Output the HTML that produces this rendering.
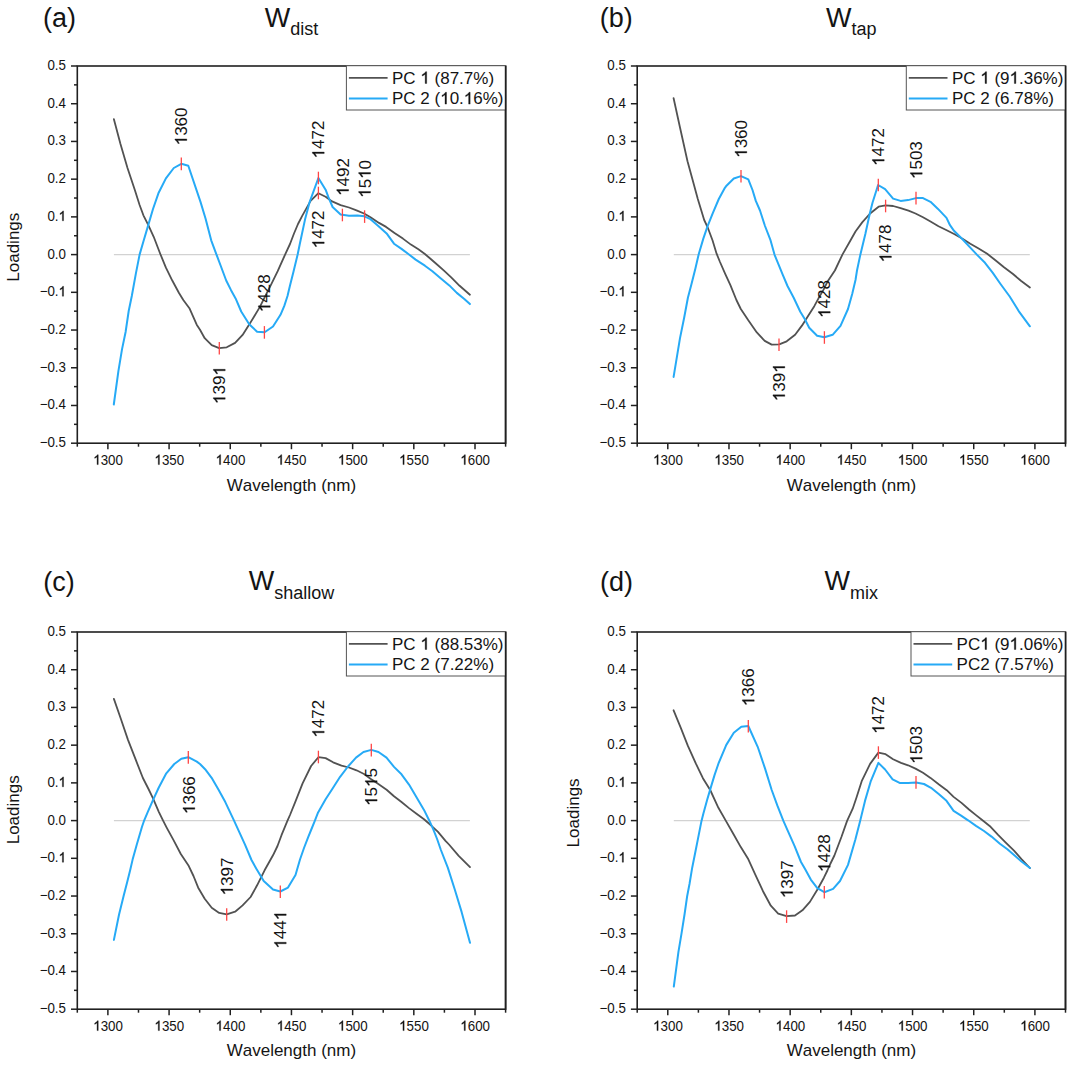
<!DOCTYPE html>
<html><head><meta charset="utf-8"><title>PCA loadings</title>
<style>html,body{margin:0;padding:0;background:#fff;}body{width:1073px;height:1068px;overflow:hidden;}svg text{font-family:"Liberation Sans", sans-serif;fill:#141414;font-kerning:none;}svg path{fill:#141414;stroke:#141414;stroke-width:0.35px;vector-effect:non-scaling-stroke;}</style>
</head><body>
<svg width="1073" height="1068" viewBox="0 0 1073 1068" style="display:block">
<rect width="1073" height="1068" fill="#fff"/>
<g><line x1="113.9" y1="254.6" x2="469.9" y2="254.6" stroke="#d2d2d2" stroke-width="1.3"/><polyline points="113.9,119.2 120.4,143.7 127.5,168.0 135.0,190.5 139.6,205.0 143.4,215.3 148.1,224.7 153.7,236.8 160.2,253.7 165.9,267.7 172.4,280.8 179.0,293.0 183.3,300.0 189.4,308.2 196.7,324.7 200.0,329.8 204.7,338.2 211.7,345.2 219.2,348.2 226.7,347.3 235.1,342.9 242.6,334.9 249.2,324.6 254.3,316.2 259.9,306.9 265.5,295.6 271.2,284.3 277.7,271.2 285.2,254.3 290.0,244.0 294.0,233.5 298.0,224.0 302.2,215.9 310.6,200.9 318.4,193.2 325.6,196.7 332.1,201.4 340.6,205.1 349.0,207.5 356.5,210.3 364.0,213.5 370.5,217.3 379.0,222.9 386.1,226.9 394.5,232.9 402.9,238.6 410.9,244.6 418.4,249.3 424.9,254.0 428.7,257.3 436.2,263.8 443.7,270.4 451.2,277.4 459.6,285.8 469.9,294.7" fill="none" stroke="#525252" stroke-width="1.8" stroke-linejoin="round" stroke-linecap="round"/><polyline points="113.8,404.5 118.4,371.1 122.0,349.4 125.6,332.0 128.7,311.0 131.8,296.0 135.9,273.4 139.6,254.6 143.4,241.5 148.1,225.6 153.0,209.0 158.4,193.3 165.9,178.4 173.8,168.0 181.3,163.8 188.3,165.7 200.5,201.9 205.6,218.7 211.2,240.3 216.4,254.3 220.6,265.5 226.2,280.5 230.9,289.9 235.6,298.4 241.2,311.5 249.2,324.2 257.1,331.7 264.6,332.3 273.0,326.5 280.5,314.8 284.3,305.9 287.5,296.0 290.0,285.5 293.6,271.2 297.7,254.3 300.0,243.0 305.0,219.6 309.7,201.8 318.4,178.0 325.6,189.7 328.4,197.2 332.6,207.0 340.6,214.5 349.0,215.7 357.4,215.4 364.4,216.3 370.5,219.2 378.0,225.7 386.6,233.4 394.0,243.7 401.5,248.9 409.0,254.5 415.6,259.6 424.9,265.7 432.4,271.3 440.9,278.4 449.3,285.4 456.8,292.9 464.3,299.0 469.9,304.1" fill="none" stroke="#26aaf6" stroke-width="2" stroke-linejoin="round" stroke-linecap="round"/><line x1="181.3" y1="157.6" x2="181.3" y2="170.2" stroke="#ff4545" stroke-width="1.3"/><line x1="219.3" y1="342.0" x2="219.3" y2="354.6" stroke="#ff4545" stroke-width="1.3"/><line x1="264.4" y1="326.1" x2="264.4" y2="338.7" stroke="#ff4545" stroke-width="1.3"/><line x1="318.4" y1="171.7" x2="318.4" y2="184.3" stroke="#ff4545" stroke-width="1.3"/><line x1="318.4" y1="186.7" x2="318.4" y2="199.3" stroke="#ff4545" stroke-width="1.3"/><line x1="342.4" y1="208.7" x2="342.4" y2="221.3" stroke="#ff4545" stroke-width="1.3"/><line x1="364.6" y1="210.3" x2="364.6" y2="222.9" stroke="#ff4545" stroke-width="1.3"/><g transform="translate(186.8,145.3) rotate(-90)"><text x="0.00" y="0" font-size="17"> 360</text><path d="M763 0H583V1147C539 1105 481 1063 409 1021C337 979 272 947 223 926V1098C321 1144 406 1200 479 1264C552 1328 604 1395 635 1466H763Z" transform="translate(0.00,0) scale(0.00830,-0.00807)"/></g><g transform="translate(225.2,404.0) rotate(-90)"><text x="0.00" y="0" font-size="17"> 39 </text><path d="M763 0H583V1147C539 1105 481 1063 409 1021C337 979 272 947 223 926V1098C321 1144 406 1200 479 1264C552 1328 604 1395 635 1466H763Z" transform="translate(0.00,0) scale(0.00830,-0.00807)"/><path d="M763 0H583V1147C539 1105 481 1063 409 1021C337 979 272 947 223 926V1098C321 1144 406 1200 479 1264C552 1328 604 1395 635 1466H763Z" transform="translate(28.36,0) scale(0.00830,-0.00807)"/></g><g transform="translate(270.2,312.2) rotate(-90)"><text x="0.00" y="0" font-size="17"> 428</text><path d="M763 0H583V1147C539 1105 481 1063 409 1021C337 979 272 947 223 926V1098C321 1144 406 1200 479 1264C552 1328 604 1395 635 1466H763Z" transform="translate(0.00,0) scale(0.00830,-0.00807)"/></g><g transform="translate(324.2,158.4) rotate(-90)"><text x="0.00" y="0" font-size="17"> 472</text><path d="M763 0H583V1147C539 1105 481 1063 409 1021C337 979 272 947 223 926V1098C321 1144 406 1200 479 1264C552 1328 604 1395 635 1466H763Z" transform="translate(0.00,0) scale(0.00830,-0.00807)"/></g><g transform="translate(324.2,248.3) rotate(-90)"><text x="0.00" y="0" font-size="17"> 472</text><path d="M763 0H583V1147C539 1105 481 1063 409 1021C337 979 272 947 223 926V1098C321 1144 406 1200 479 1264C552 1328 604 1395 635 1466H763Z" transform="translate(0.00,0) scale(0.00830,-0.00807)"/></g><g transform="translate(348.6,195.9) rotate(-90)"><text x="0.00" y="0" font-size="17"> 492</text><path d="M763 0H583V1147C539 1105 481 1063 409 1021C337 979 272 947 223 926V1098C321 1144 406 1200 479 1264C552 1328 604 1395 635 1466H763Z" transform="translate(0.00,0) scale(0.00830,-0.00807)"/></g><g transform="translate(370.5,197.8) rotate(-90)"><text x="0.00" y="0" font-size="17"> 5 0</text><path d="M763 0H583V1147C539 1105 481 1063 409 1021C337 979 272 947 223 926V1098C321 1144 406 1200 479 1264C552 1328 604 1395 635 1466H763Z" transform="translate(0.00,0) scale(0.00830,-0.00807)"/><path d="M763 0H583V1147C539 1105 481 1063 409 1021C337 979 272 947 223 926V1098C321 1144 406 1200 479 1264C552 1328 604 1395 635 1466H763Z" transform="translate(18.91,0) scale(0.00830,-0.00807)"/></g><rect x="77.3" y="66.0" width="428.3" height="377.2" fill="none" stroke="#202020" stroke-width="1.6"/><line x1="71.0" y1="66.00" x2="77.3" y2="66.00" stroke="#202020" stroke-width="1.5"/><g transform="translate(66.0,69.9) scale(0.94,1)"><text x="-19.74" y="0" font-size="14.2">0.5</text></g><line x1="74.0" y1="84.86" x2="77.3" y2="84.86" stroke="#202020" stroke-width="1.5"/><line x1="71.0" y1="103.72" x2="77.3" y2="103.72" stroke="#202020" stroke-width="1.5"/><g transform="translate(66.0,107.6) scale(0.94,1)"><text x="-19.74" y="0" font-size="14.2">0.4</text></g><line x1="74.0" y1="122.58" x2="77.3" y2="122.58" stroke="#202020" stroke-width="1.5"/><line x1="71.0" y1="141.44" x2="77.3" y2="141.44" stroke="#202020" stroke-width="1.5"/><g transform="translate(66.0,145.3) scale(0.94,1)"><text x="-19.74" y="0" font-size="14.2">0.3</text></g><line x1="74.0" y1="160.30" x2="77.3" y2="160.30" stroke="#202020" stroke-width="1.5"/><line x1="71.0" y1="179.16" x2="77.3" y2="179.16" stroke="#202020" stroke-width="1.5"/><g transform="translate(66.0,183.1) scale(0.94,1)"><text x="-19.74" y="0" font-size="14.2">0.2</text></g><line x1="74.0" y1="198.02" x2="77.3" y2="198.02" stroke="#202020" stroke-width="1.5"/><line x1="71.0" y1="216.88" x2="77.3" y2="216.88" stroke="#202020" stroke-width="1.5"/><g transform="translate(66.0,220.8) scale(0.94,1)"><text x="-19.74" y="0" font-size="14.2">0. </text><path d="M763 0H583V1147C539 1105 481 1063 409 1021C337 979 272 947 223 926V1098C321 1144 406 1200 479 1264C552 1328 604 1395 635 1466H763Z" transform="translate(-7.90,0) scale(0.00693,-0.00674)"/></g><line x1="74.0" y1="235.74" x2="77.3" y2="235.74" stroke="#202020" stroke-width="1.5"/><line x1="71.0" y1="254.60" x2="77.3" y2="254.60" stroke="#202020" stroke-width="1.5"/><g transform="translate(66.0,258.5) scale(0.94,1)"><text x="-19.74" y="0" font-size="14.2">0.0</text></g><line x1="74.0" y1="273.46" x2="77.3" y2="273.46" stroke="#202020" stroke-width="1.5"/><line x1="71.0" y1="292.32" x2="77.3" y2="292.32" stroke="#202020" stroke-width="1.5"/><g transform="translate(66.0,296.2) scale(0.94,1)"><text x="-28.03" y="0" font-size="14.2">−0. </text><path d="M763 0H583V1147C539 1105 481 1063 409 1021C337 979 272 947 223 926V1098C321 1144 406 1200 479 1264C552 1328 604 1395 635 1466H763Z" transform="translate(-7.90,0) scale(0.00693,-0.00674)"/></g><line x1="74.0" y1="311.18" x2="77.3" y2="311.18" stroke="#202020" stroke-width="1.5"/><line x1="71.0" y1="330.04" x2="77.3" y2="330.04" stroke="#202020" stroke-width="1.5"/><g transform="translate(66.0,333.9) scale(0.94,1)"><text x="-28.03" y="0" font-size="14.2">−0.2</text></g><line x1="74.0" y1="348.90" x2="77.3" y2="348.90" stroke="#202020" stroke-width="1.5"/><line x1="71.0" y1="367.76" x2="77.3" y2="367.76" stroke="#202020" stroke-width="1.5"/><g transform="translate(66.0,371.7) scale(0.94,1)"><text x="-28.03" y="0" font-size="14.2">−0.3</text></g><line x1="74.0" y1="386.62" x2="77.3" y2="386.62" stroke="#202020" stroke-width="1.5"/><line x1="71.0" y1="405.48" x2="77.3" y2="405.48" stroke="#202020" stroke-width="1.5"/><g transform="translate(66.0,409.4) scale(0.94,1)"><text x="-28.03" y="0" font-size="14.2">−0.4</text></g><line x1="74.0" y1="424.34" x2="77.3" y2="424.34" stroke="#202020" stroke-width="1.5"/><line x1="71.0" y1="443.20" x2="77.3" y2="443.20" stroke="#202020" stroke-width="1.5"/><g transform="translate(66.0,447.1) scale(0.94,1)"><text x="-28.03" y="0" font-size="14.2">−0.5</text></g><line x1="77.30" y1="443.2" x2="77.30" y2="446.7" stroke="#202020" stroke-width="1.5"/><line x1="107.89" y1="443.2" x2="107.89" y2="449.2" stroke="#202020" stroke-width="1.5"/><g transform="translate(108.1,464.6) scale(0.94,1)"><text x="-15.79" y="0" font-size="14.2"> 300</text><path d="M763 0H583V1147C539 1105 481 1063 409 1021C337 979 272 947 223 926V1098C321 1144 406 1200 479 1264C552 1328 604 1395 635 1466H763Z" transform="translate(-15.79,0) scale(0.00693,-0.00674)"/></g><line x1="138.49" y1="443.2" x2="138.49" y2="446.7" stroke="#202020" stroke-width="1.5"/><line x1="169.08" y1="443.2" x2="169.08" y2="449.2" stroke="#202020" stroke-width="1.5"/><g transform="translate(169.3,464.6) scale(0.94,1)"><text x="-15.79" y="0" font-size="14.2"> 350</text><path d="M763 0H583V1147C539 1105 481 1063 409 1021C337 979 272 947 223 926V1098C321 1144 406 1200 479 1264C552 1328 604 1395 635 1466H763Z" transform="translate(-15.79,0) scale(0.00693,-0.00674)"/></g><line x1="199.67" y1="443.2" x2="199.67" y2="446.7" stroke="#202020" stroke-width="1.5"/><line x1="230.26" y1="443.2" x2="230.26" y2="449.2" stroke="#202020" stroke-width="1.5"/><g transform="translate(230.5,464.6) scale(0.94,1)"><text x="-15.79" y="0" font-size="14.2"> 400</text><path d="M763 0H583V1147C539 1105 481 1063 409 1021C337 979 272 947 223 926V1098C321 1144 406 1200 479 1264C552 1328 604 1395 635 1466H763Z" transform="translate(-15.79,0) scale(0.00693,-0.00674)"/></g><line x1="260.86" y1="443.2" x2="260.86" y2="446.7" stroke="#202020" stroke-width="1.5"/><line x1="291.45" y1="443.2" x2="291.45" y2="449.2" stroke="#202020" stroke-width="1.5"/><g transform="translate(291.6,464.6) scale(0.94,1)"><text x="-15.79" y="0" font-size="14.2"> 450</text><path d="M763 0H583V1147C539 1105 481 1063 409 1021C337 979 272 947 223 926V1098C321 1144 406 1200 479 1264C552 1328 604 1395 635 1466H763Z" transform="translate(-15.79,0) scale(0.00693,-0.00674)"/></g><line x1="322.04" y1="443.2" x2="322.04" y2="446.7" stroke="#202020" stroke-width="1.5"/><line x1="352.64" y1="443.2" x2="352.64" y2="449.2" stroke="#202020" stroke-width="1.5"/><g transform="translate(352.8,464.6) scale(0.94,1)"><text x="-15.79" y="0" font-size="14.2"> 500</text><path d="M763 0H583V1147C539 1105 481 1063 409 1021C337 979 272 947 223 926V1098C321 1144 406 1200 479 1264C552 1328 604 1395 635 1466H763Z" transform="translate(-15.79,0) scale(0.00693,-0.00674)"/></g><line x1="383.23" y1="443.2" x2="383.23" y2="446.7" stroke="#202020" stroke-width="1.5"/><line x1="413.82" y1="443.2" x2="413.82" y2="449.2" stroke="#202020" stroke-width="1.5"/><g transform="translate(414.0,464.6) scale(0.94,1)"><text x="-15.79" y="0" font-size="14.2"> 550</text><path d="M763 0H583V1147C539 1105 481 1063 409 1021C337 979 272 947 223 926V1098C321 1144 406 1200 479 1264C552 1328 604 1395 635 1466H763Z" transform="translate(-15.79,0) scale(0.00693,-0.00674)"/></g><line x1="444.41" y1="443.2" x2="444.41" y2="446.7" stroke="#202020" stroke-width="1.5"/><line x1="475.01" y1="443.2" x2="475.01" y2="449.2" stroke="#202020" stroke-width="1.5"/><g transform="translate(475.2,464.6) scale(0.94,1)"><text x="-15.79" y="0" font-size="14.2"> 600</text><path d="M763 0H583V1147C539 1105 481 1063 409 1021C337 979 272 947 223 926V1098C321 1144 406 1200 479 1264C552 1328 604 1395 635 1466H763Z" transform="translate(-15.79,0) scale(0.00693,-0.00674)"/></g><line x1="505.60" y1="443.2" x2="505.60" y2="446.7" stroke="#202020" stroke-width="1.5"/><g transform="translate(291.4,491.1)"><text x="-64.72" y="0" font-size="17">Wavelength (nm)</text></g><g transform="translate(19.2,247.2) rotate(-90)"><text x="-34.50" y="0" font-size="17">Loadings</text></g><g transform="translate(43.1,26.5)"><text x="0.00" y="0" font-size="27">(a)</text></g><g transform="translate(0,26.5)"><text x="264.70" y="0" font-size="27">W</text><text x="290.19" y="8.3" font-size="18">dist</text></g><rect x="346.4" y="65.7" width="159.2" height="44.3" fill="#fff" stroke="#555" stroke-width="1"/><line x1="348.9" y1="77.8" x2="387.6" y2="77.8" stroke="#525252" stroke-width="1.8"/><g transform="translate(392.0,83.5)"><text x="0.00" y="0" font-size="17">PC   (87.7%)</text><path d="M763 0H583V1147C539 1105 481 1063 409 1021C337 979 272 947 223 926V1098C321 1144 406 1200 479 1264C552 1328 604 1395 635 1466H763Z" transform="translate(28.34,0) scale(0.00830,-0.00807)"/></g><line x1="348.9" y1="98.4" x2="387.6" y2="98.4" stroke="#26aaf6" stroke-width="2"/><g transform="translate(392.0,104.1)"><text x="0.00" y="0" font-size="17">PC 2 ( 0. 6%)</text><path d="M763 0H583V1147C539 1105 481 1063 409 1021C337 979 272 947 223 926V1098C321 1144 406 1200 479 1264C552 1328 604 1395 635 1466H763Z" transform="translate(48.18,0) scale(0.00830,-0.00807)"/><path d="M763 0H583V1147C539 1105 481 1063 409 1021C337 979 272 947 223 926V1098C321 1144 406 1200 479 1264C552 1328 604 1395 635 1466H763Z" transform="translate(71.81,0) scale(0.00830,-0.00807)"/></g><line x1="505.6" y1="66.0" x2="505.6" y2="443.2" stroke="#202020" stroke-width="1.6"/></g>
<g><line x1="673.8" y1="254.6" x2="1029.8" y2="254.6" stroke="#d2d2d2" stroke-width="1.3"/><polyline points="673.6,98.2 680.0,127.5 687.5,161.2 694.0,185.0 697.8,199.0 704.2,220.0 708.0,228.2 712.5,240.2 716.6,253.7 720.0,262.0 725.2,273.9 730.4,285.2 736.4,300.0 740.8,309.0 748.3,320.3 756.8,332.4 764.7,340.9 771.7,344.6 779.2,344.4 786.7,341.3 795.1,334.8 802.1,325.4 808.7,315.1 814.3,306.2 818.5,298.3 823.7,289.4 827.4,281.8 834.9,270.5 842.4,254.6 850.0,241.3 855.5,231.5 862.2,222.4 870.1,213.5 878.6,206.7 885.6,205.4 893.1,206.0 900.6,208.2 908.5,210.7 915.5,213.5 923.0,217.3 930.5,221.5 938.5,226.2 946.7,230.2 954.6,234.2 962.5,238.7 970.3,243.7 978.2,248.2 987.2,253.8 995.1,260.0 1004.0,267.3 1013.0,274.0 1020.9,280.8 1029.9,287.5" fill="none" stroke="#525252" stroke-width="1.8" stroke-linejoin="round" stroke-linecap="round"/><polyline points="673.6,376.9 680.0,338.1 684.2,317.5 687.9,297.8 691.5,284.0 695.4,268.5 698.7,254.3 703.4,238.4 707.6,226.2 712.8,213.1 718.8,199.0 724.9,187.8 726.0,186.3 733.8,178.5 741.0,176.1 748.3,179.4 752.5,190.0 755.8,200.9 760.0,210.5 765.0,226.0 770.3,239.6 774.5,254.6 778.7,264.9 782.9,275.2 787.5,286.0 793.7,297.8 800.3,311.8 804.9,319.3 809.2,327.8 817.1,335.7 824.4,337.3 832.6,334.8 840.5,325.9 848.0,309.0 852.2,294.0 855.5,280.0 857.0,270.5 860.4,254.4 865.4,233.7 869.7,214.0 872.5,202.8 878.1,185.0 885.1,189.2 893.1,198.6 900.6,200.9 908.1,200.1 916.0,198.1 923.0,198.1 930.5,201.8 938.0,208.9 946.5,217.9 950.0,225.2 954.0,230.8 962.5,239.2 969.8,247.1 977.1,254.9 985.0,262.8 992.8,272.9 1000.7,284.2 1009.7,296.5 1018.7,311.1 1029.9,326.3" fill="none" stroke="#26aaf6" stroke-width="2" stroke-linejoin="round" stroke-linecap="round"/><line x1="741.0" y1="170.0" x2="741.0" y2="182.6" stroke="#ff4545" stroke-width="1.3"/><line x1="779.0" y1="338.5" x2="779.0" y2="351.1" stroke="#ff4545" stroke-width="1.3"/><line x1="824.4" y1="331.2" x2="824.4" y2="343.8" stroke="#ff4545" stroke-width="1.3"/><line x1="878.3" y1="178.7" x2="878.3" y2="191.3" stroke="#ff4545" stroke-width="1.3"/><line x1="885.6" y1="199.7" x2="885.6" y2="212.3" stroke="#ff4545" stroke-width="1.3"/><line x1="916.0" y1="191.8" x2="916.0" y2="204.4" stroke="#ff4545" stroke-width="1.3"/><g transform="translate(746.8,157.8) rotate(-90)"><text x="0.00" y="0" font-size="17"> 360</text><path d="M763 0H583V1147C539 1105 481 1063 409 1021C337 979 272 947 223 926V1098C321 1144 406 1200 479 1264C552 1328 604 1395 635 1466H763Z" transform="translate(0.00,0) scale(0.00830,-0.00807)"/></g><g transform="translate(784.8,401.2) rotate(-90)"><text x="0.00" y="0" font-size="17"> 39 </text><path d="M763 0H583V1147C539 1105 481 1063 409 1021C337 979 272 947 223 926V1098C321 1144 406 1200 479 1264C552 1328 604 1395 635 1466H763Z" transform="translate(0.00,0) scale(0.00830,-0.00807)"/><path d="M763 0H583V1147C539 1105 481 1063 409 1021C337 979 272 947 223 926V1098C321 1144 406 1200 479 1264C552 1328 604 1395 635 1466H763Z" transform="translate(28.36,0) scale(0.00830,-0.00807)"/></g><g transform="translate(830.2,317.9) rotate(-90)"><text x="0.00" y="0" font-size="17"> 428</text><path d="M763 0H583V1147C539 1105 481 1063 409 1021C337 979 272 947 223 926V1098C321 1144 406 1200 479 1264C552 1328 604 1395 635 1466H763Z" transform="translate(0.00,0) scale(0.00830,-0.00807)"/></g><g transform="translate(884.2,165.9) rotate(-90)"><text x="0.00" y="0" font-size="17"> 472</text><path d="M763 0H583V1147C539 1105 481 1063 409 1021C337 979 272 947 223 926V1098C321 1144 406 1200 479 1264C552 1328 604 1395 635 1466H763Z" transform="translate(0.00,0) scale(0.00830,-0.00807)"/></g><g transform="translate(922.2,179.0) rotate(-90)"><text x="0.00" y="0" font-size="17"> 503</text><path d="M763 0H583V1147C539 1105 481 1063 409 1021C337 979 272 947 223 926V1098C321 1144 406 1200 479 1264C552 1328 604 1395 635 1466H763Z" transform="translate(0.00,0) scale(0.00830,-0.00807)"/></g><g transform="translate(891.4,262.4) rotate(-90)"><text x="0.00" y="0" font-size="17"> 478</text><path d="M763 0H583V1147C539 1105 481 1063 409 1021C337 979 272 947 223 926V1098C321 1144 406 1200 479 1264C552 1328 604 1395 635 1466H763Z" transform="translate(0.00,0) scale(0.00830,-0.00807)"/></g><rect x="637.2" y="66.0" width="428.3" height="377.2" fill="none" stroke="#202020" stroke-width="1.6"/><line x1="630.9" y1="66.00" x2="637.2" y2="66.00" stroke="#202020" stroke-width="1.5"/><g transform="translate(625.9,69.9) scale(0.94,1)"><text x="-19.74" y="0" font-size="14.2">0.5</text></g><line x1="633.9" y1="84.86" x2="637.2" y2="84.86" stroke="#202020" stroke-width="1.5"/><line x1="630.9" y1="103.72" x2="637.2" y2="103.72" stroke="#202020" stroke-width="1.5"/><g transform="translate(625.9,107.6) scale(0.94,1)"><text x="-19.74" y="0" font-size="14.2">0.4</text></g><line x1="633.9" y1="122.58" x2="637.2" y2="122.58" stroke="#202020" stroke-width="1.5"/><line x1="630.9" y1="141.44" x2="637.2" y2="141.44" stroke="#202020" stroke-width="1.5"/><g transform="translate(625.9,145.3) scale(0.94,1)"><text x="-19.74" y="0" font-size="14.2">0.3</text></g><line x1="633.9" y1="160.30" x2="637.2" y2="160.30" stroke="#202020" stroke-width="1.5"/><line x1="630.9" y1="179.16" x2="637.2" y2="179.16" stroke="#202020" stroke-width="1.5"/><g transform="translate(625.9,183.1) scale(0.94,1)"><text x="-19.74" y="0" font-size="14.2">0.2</text></g><line x1="633.9" y1="198.02" x2="637.2" y2="198.02" stroke="#202020" stroke-width="1.5"/><line x1="630.9" y1="216.88" x2="637.2" y2="216.88" stroke="#202020" stroke-width="1.5"/><g transform="translate(625.9,220.8) scale(0.94,1)"><text x="-19.74" y="0" font-size="14.2">0. </text><path d="M763 0H583V1147C539 1105 481 1063 409 1021C337 979 272 947 223 926V1098C321 1144 406 1200 479 1264C552 1328 604 1395 635 1466H763Z" transform="translate(-7.90,0) scale(0.00693,-0.00674)"/></g><line x1="633.9" y1="235.74" x2="637.2" y2="235.74" stroke="#202020" stroke-width="1.5"/><line x1="630.9" y1="254.60" x2="637.2" y2="254.60" stroke="#202020" stroke-width="1.5"/><g transform="translate(625.9,258.5) scale(0.94,1)"><text x="-19.74" y="0" font-size="14.2">0.0</text></g><line x1="633.9" y1="273.46" x2="637.2" y2="273.46" stroke="#202020" stroke-width="1.5"/><line x1="630.9" y1="292.32" x2="637.2" y2="292.32" stroke="#202020" stroke-width="1.5"/><g transform="translate(625.9,296.2) scale(0.94,1)"><text x="-28.03" y="0" font-size="14.2">−0. </text><path d="M763 0H583V1147C539 1105 481 1063 409 1021C337 979 272 947 223 926V1098C321 1144 406 1200 479 1264C552 1328 604 1395 635 1466H763Z" transform="translate(-7.90,0) scale(0.00693,-0.00674)"/></g><line x1="633.9" y1="311.18" x2="637.2" y2="311.18" stroke="#202020" stroke-width="1.5"/><line x1="630.9" y1="330.04" x2="637.2" y2="330.04" stroke="#202020" stroke-width="1.5"/><g transform="translate(625.9,333.9) scale(0.94,1)"><text x="-28.03" y="0" font-size="14.2">−0.2</text></g><line x1="633.9" y1="348.90" x2="637.2" y2="348.90" stroke="#202020" stroke-width="1.5"/><line x1="630.9" y1="367.76" x2="637.2" y2="367.76" stroke="#202020" stroke-width="1.5"/><g transform="translate(625.9,371.7) scale(0.94,1)"><text x="-28.03" y="0" font-size="14.2">−0.3</text></g><line x1="633.9" y1="386.62" x2="637.2" y2="386.62" stroke="#202020" stroke-width="1.5"/><line x1="630.9" y1="405.48" x2="637.2" y2="405.48" stroke="#202020" stroke-width="1.5"/><g transform="translate(625.9,409.4) scale(0.94,1)"><text x="-28.03" y="0" font-size="14.2">−0.4</text></g><line x1="633.9" y1="424.34" x2="637.2" y2="424.34" stroke="#202020" stroke-width="1.5"/><line x1="630.9" y1="443.20" x2="637.2" y2="443.20" stroke="#202020" stroke-width="1.5"/><g transform="translate(625.9,447.1) scale(0.94,1)"><text x="-28.03" y="0" font-size="14.2">−0.5</text></g><line x1="637.20" y1="443.2" x2="637.20" y2="446.7" stroke="#202020" stroke-width="1.5"/><line x1="667.79" y1="443.2" x2="667.79" y2="449.2" stroke="#202020" stroke-width="1.5"/><g transform="translate(668.0,464.6) scale(0.94,1)"><text x="-15.79" y="0" font-size="14.2"> 300</text><path d="M763 0H583V1147C539 1105 481 1063 409 1021C337 979 272 947 223 926V1098C321 1144 406 1200 479 1264C552 1328 604 1395 635 1466H763Z" transform="translate(-15.79,0) scale(0.00693,-0.00674)"/></g><line x1="698.39" y1="443.2" x2="698.39" y2="446.7" stroke="#202020" stroke-width="1.5"/><line x1="728.98" y1="443.2" x2="728.98" y2="449.2" stroke="#202020" stroke-width="1.5"/><g transform="translate(729.2,464.6) scale(0.94,1)"><text x="-15.79" y="0" font-size="14.2"> 350</text><path d="M763 0H583V1147C539 1105 481 1063 409 1021C337 979 272 947 223 926V1098C321 1144 406 1200 479 1264C552 1328 604 1395 635 1466H763Z" transform="translate(-15.79,0) scale(0.00693,-0.00674)"/></g><line x1="759.57" y1="443.2" x2="759.57" y2="446.7" stroke="#202020" stroke-width="1.5"/><line x1="790.16" y1="443.2" x2="790.16" y2="449.2" stroke="#202020" stroke-width="1.5"/><g transform="translate(790.4,464.6) scale(0.94,1)"><text x="-15.79" y="0" font-size="14.2"> 400</text><path d="M763 0H583V1147C539 1105 481 1063 409 1021C337 979 272 947 223 926V1098C321 1144 406 1200 479 1264C552 1328 604 1395 635 1466H763Z" transform="translate(-15.79,0) scale(0.00693,-0.00674)"/></g><line x1="820.76" y1="443.2" x2="820.76" y2="446.7" stroke="#202020" stroke-width="1.5"/><line x1="851.35" y1="443.2" x2="851.35" y2="449.2" stroke="#202020" stroke-width="1.5"/><g transform="translate(851.6,464.6) scale(0.94,1)"><text x="-15.79" y="0" font-size="14.2"> 450</text><path d="M763 0H583V1147C539 1105 481 1063 409 1021C337 979 272 947 223 926V1098C321 1144 406 1200 479 1264C552 1328 604 1395 635 1466H763Z" transform="translate(-15.79,0) scale(0.00693,-0.00674)"/></g><line x1="881.94" y1="443.2" x2="881.94" y2="446.7" stroke="#202020" stroke-width="1.5"/><line x1="912.54" y1="443.2" x2="912.54" y2="449.2" stroke="#202020" stroke-width="1.5"/><g transform="translate(912.7,464.6) scale(0.94,1)"><text x="-15.79" y="0" font-size="14.2"> 500</text><path d="M763 0H583V1147C539 1105 481 1063 409 1021C337 979 272 947 223 926V1098C321 1144 406 1200 479 1264C552 1328 604 1395 635 1466H763Z" transform="translate(-15.79,0) scale(0.00693,-0.00674)"/></g><line x1="943.13" y1="443.2" x2="943.13" y2="446.7" stroke="#202020" stroke-width="1.5"/><line x1="973.72" y1="443.2" x2="973.72" y2="449.2" stroke="#202020" stroke-width="1.5"/><g transform="translate(973.9,464.6) scale(0.94,1)"><text x="-15.79" y="0" font-size="14.2"> 550</text><path d="M763 0H583V1147C539 1105 481 1063 409 1021C337 979 272 947 223 926V1098C321 1144 406 1200 479 1264C552 1328 604 1395 635 1466H763Z" transform="translate(-15.79,0) scale(0.00693,-0.00674)"/></g><line x1="1004.31" y1="443.2" x2="1004.31" y2="446.7" stroke="#202020" stroke-width="1.5"/><line x1="1034.91" y1="443.2" x2="1034.91" y2="449.2" stroke="#202020" stroke-width="1.5"/><g transform="translate(1035.1,464.6) scale(0.94,1)"><text x="-15.79" y="0" font-size="14.2"> 600</text><path d="M763 0H583V1147C539 1105 481 1063 409 1021C337 979 272 947 223 926V1098C321 1144 406 1200 479 1264C552 1328 604 1395 635 1466H763Z" transform="translate(-15.79,0) scale(0.00693,-0.00674)"/></g><line x1="1065.50" y1="443.2" x2="1065.50" y2="446.7" stroke="#202020" stroke-width="1.5"/><g transform="translate(851.4,491.1)"><text x="-64.72" y="0" font-size="17">Wavelength (nm)</text></g><g transform="translate(599.7,26.5)"><text x="0.00" y="0" font-size="27">(b)</text></g><g transform="translate(0,26.5)"><text x="826.10" y="0" font-size="27">W</text><text x="851.58" y="8.3" font-size="18">tap</text></g><rect x="906.3" y="65.7" width="159.2" height="44.3" fill="#fff" stroke="#555" stroke-width="1"/><line x1="908.8" y1="77.8" x2="947.5" y2="77.8" stroke="#525252" stroke-width="1.8"/><g transform="translate(951.9,83.5)"><text x="0.00" y="0" font-size="17">PC   (9 .36%)</text><path d="M763 0H583V1147C539 1105 481 1063 409 1021C337 979 272 947 223 926V1098C321 1144 406 1200 479 1264C552 1328 604 1395 635 1466H763Z" transform="translate(28.34,0) scale(0.00830,-0.00807)"/><path d="M763 0H583V1147C539 1105 481 1063 409 1021C337 979 272 947 223 926V1098C321 1144 406 1200 479 1264C552 1328 604 1395 635 1466H763Z" transform="translate(57.63,0) scale(0.00830,-0.00807)"/></g><line x1="908.8" y1="98.4" x2="947.5" y2="98.4" stroke="#26aaf6" stroke-width="2"/><g transform="translate(951.9,104.1)"><text x="0.00" y="0" font-size="17">PC 2 (6.78%)</text></g><line x1="1065.5" y1="66.0" x2="1065.5" y2="443.2" stroke="#202020" stroke-width="1.6"/></g>
<g><line x1="113.9" y1="820.6" x2="469.9" y2="820.6" stroke="#d2d2d2" stroke-width="1.3"/><polyline points="113.9,698.9 120.9,719.0 127.9,739.6 135.9,760.2 142.9,778.0 148.5,789.0 152.8,797.8 158.8,811.8 163.1,820.7 166.8,827.8 173.4,839.9 180.8,854.0 188.8,866.1 193.5,876.0 198.2,887.7 204.7,898.8 211.7,907.7 219.2,912.9 226.7,914.3 235.1,911.7 242.6,905.4 250.6,897.0 257.1,885.3 264.6,870.3 273.0,855.3 277.5,846.0 281.5,835.2 287.5,820.7 290.0,815.0 295.6,801.2 302.6,783.4 311.1,766.0 318.4,757.2 325.6,758.1 333.1,762.3 341.5,765.6 349.0,767.5 356.5,770.3 364.0,774.0 370.5,778.7 378.0,783.8 386.6,789.8 394.0,796.3 401.5,802.0 409.0,808.1 416.5,813.7 424.0,819.3 431.5,825.8 438.0,831.9 445.5,840.8 449.0,844.5 458.7,855.8 470.0,867.1" fill="none" stroke="#525252" stroke-width="1.8" stroke-linejoin="round" stroke-linecap="round"/><polyline points="113.9,939.9 119.0,914.7 123.6,896.1 127.4,881.2 130.2,870.0 132.6,859.6 136.8,844.6 142.0,826.8 143.9,821.2 147.6,812.3 153.2,799.7 158.8,787.5 166.3,773.3 174.3,764.0 181.3,758.8 188.3,757.2 196.8,761.6 200.0,764.0 205.1,769.2 212.2,778.7 218.7,790.0 225.3,802.1 233.7,819.9 239.3,832.1 244.9,844.3 251.5,860.0 256.2,868.4 263.7,881.0 273.0,889.5 280.3,891.5 288.0,887.6 295.5,875.0 300.0,859.5 304.0,848.0 308.1,837.3 311.5,829.0 314.8,820.8 318.1,812.4 325.6,799.3 332.6,788.5 340.1,776.8 347.6,767.0 356.0,757.6 363.5,752.0 371.3,749.9 378.5,752.0 386.5,757.6 394.0,766.9 401.5,774.3 409.0,784.6 416.5,797.3 424.0,809.9 429.6,821.2 433.4,829.6 437.1,839.0 440.9,850.0 447.8,867.6 454.7,889.2 461.6,911.9 470.0,942.8" fill="none" stroke="#26aaf6" stroke-width="2" stroke-linejoin="round" stroke-linecap="round"/><line x1="188.3" y1="751.1" x2="188.3" y2="763.7" stroke="#ff4545" stroke-width="1.3"/><line x1="226.7" y1="908.2" x2="226.7" y2="920.8" stroke="#ff4545" stroke-width="1.3"/><line x1="280.3" y1="885.5" x2="280.3" y2="898.1" stroke="#ff4545" stroke-width="1.3"/><line x1="318.4" y1="750.7" x2="318.4" y2="763.3" stroke="#ff4545" stroke-width="1.3"/><line x1="371.3" y1="743.8" x2="371.3" y2="756.4" stroke="#ff4545" stroke-width="1.3"/><g transform="translate(194.8,814.0) rotate(-90)"><text x="0.00" y="0" font-size="17"> 366</text><path d="M763 0H583V1147C539 1105 481 1063 409 1021C337 979 272 947 223 926V1098C321 1144 406 1200 479 1264C552 1328 604 1395 635 1466H763Z" transform="translate(0.00,0) scale(0.00830,-0.00807)"/></g><g transform="translate(232.7,895.4) rotate(-90)"><text x="0.00" y="0" font-size="17"> 397</text><path d="M763 0H583V1147C539 1105 481 1063 409 1021C337 979 272 947 223 926V1098C321 1144 406 1200 479 1264C552 1328 604 1395 635 1466H763Z" transform="translate(0.00,0) scale(0.00830,-0.00807)"/></g><g transform="translate(286.2,948.6) rotate(-90)"><text x="0.00" y="0" font-size="17"> 44 </text><path d="M763 0H583V1147C539 1105 481 1063 409 1021C337 979 272 947 223 926V1098C321 1144 406 1200 479 1264C552 1328 604 1395 635 1466H763Z" transform="translate(0.00,0) scale(0.00830,-0.00807)"/><path d="M763 0H583V1147C539 1105 481 1063 409 1021C337 979 272 947 223 926V1098C321 1144 406 1200 479 1264C552 1328 604 1395 635 1466H763Z" transform="translate(28.36,0) scale(0.00830,-0.00807)"/></g><g transform="translate(324.2,737.6) rotate(-90)"><text x="0.00" y="0" font-size="17"> 472</text><path d="M763 0H583V1147C539 1105 481 1063 409 1021C337 979 272 947 223 926V1098C321 1144 406 1200 479 1264C552 1328 604 1395 635 1466H763Z" transform="translate(0.00,0) scale(0.00830,-0.00807)"/></g><g transform="translate(377.1,805.9) rotate(-90)"><text x="0.00" y="0" font-size="17"> 5 5</text><path d="M763 0H583V1147C539 1105 481 1063 409 1021C337 979 272 947 223 926V1098C321 1144 406 1200 479 1264C552 1328 604 1395 635 1466H763Z" transform="translate(0.00,0) scale(0.00830,-0.00807)"/><path d="M763 0H583V1147C539 1105 481 1063 409 1021C337 979 272 947 223 926V1098C321 1144 406 1200 479 1264C552 1328 604 1395 635 1466H763Z" transform="translate(18.91,0) scale(0.00830,-0.00807)"/></g><rect x="77.3" y="632.0" width="428.3" height="377.2" fill="none" stroke="#202020" stroke-width="1.6"/><line x1="71.0" y1="632.00" x2="77.3" y2="632.00" stroke="#202020" stroke-width="1.5"/><g transform="translate(66.0,635.9) scale(0.94,1)"><text x="-19.74" y="0" font-size="14.2">0.5</text></g><line x1="74.0" y1="650.86" x2="77.3" y2="650.86" stroke="#202020" stroke-width="1.5"/><line x1="71.0" y1="669.72" x2="77.3" y2="669.72" stroke="#202020" stroke-width="1.5"/><g transform="translate(66.0,673.6) scale(0.94,1)"><text x="-19.74" y="0" font-size="14.2">0.4</text></g><line x1="74.0" y1="688.58" x2="77.3" y2="688.58" stroke="#202020" stroke-width="1.5"/><line x1="71.0" y1="707.44" x2="77.3" y2="707.44" stroke="#202020" stroke-width="1.5"/><g transform="translate(66.0,711.3) scale(0.94,1)"><text x="-19.74" y="0" font-size="14.2">0.3</text></g><line x1="74.0" y1="726.30" x2="77.3" y2="726.30" stroke="#202020" stroke-width="1.5"/><line x1="71.0" y1="745.16" x2="77.3" y2="745.16" stroke="#202020" stroke-width="1.5"/><g transform="translate(66.0,749.1) scale(0.94,1)"><text x="-19.74" y="0" font-size="14.2">0.2</text></g><line x1="74.0" y1="764.02" x2="77.3" y2="764.02" stroke="#202020" stroke-width="1.5"/><line x1="71.0" y1="782.88" x2="77.3" y2="782.88" stroke="#202020" stroke-width="1.5"/><g transform="translate(66.0,786.8) scale(0.94,1)"><text x="-19.74" y="0" font-size="14.2">0. </text><path d="M763 0H583V1147C539 1105 481 1063 409 1021C337 979 272 947 223 926V1098C321 1144 406 1200 479 1264C552 1328 604 1395 635 1466H763Z" transform="translate(-7.90,0) scale(0.00693,-0.00674)"/></g><line x1="74.0" y1="801.74" x2="77.3" y2="801.74" stroke="#202020" stroke-width="1.5"/><line x1="71.0" y1="820.60" x2="77.3" y2="820.60" stroke="#202020" stroke-width="1.5"/><g transform="translate(66.0,824.5) scale(0.94,1)"><text x="-19.74" y="0" font-size="14.2">0.0</text></g><line x1="74.0" y1="839.46" x2="77.3" y2="839.46" stroke="#202020" stroke-width="1.5"/><line x1="71.0" y1="858.32" x2="77.3" y2="858.32" stroke="#202020" stroke-width="1.5"/><g transform="translate(66.0,862.2) scale(0.94,1)"><text x="-28.03" y="0" font-size="14.2">−0. </text><path d="M763 0H583V1147C539 1105 481 1063 409 1021C337 979 272 947 223 926V1098C321 1144 406 1200 479 1264C552 1328 604 1395 635 1466H763Z" transform="translate(-7.90,0) scale(0.00693,-0.00674)"/></g><line x1="74.0" y1="877.18" x2="77.3" y2="877.18" stroke="#202020" stroke-width="1.5"/><line x1="71.0" y1="896.04" x2="77.3" y2="896.04" stroke="#202020" stroke-width="1.5"/><g transform="translate(66.0,899.9) scale(0.94,1)"><text x="-28.03" y="0" font-size="14.2">−0.2</text></g><line x1="74.0" y1="914.90" x2="77.3" y2="914.90" stroke="#202020" stroke-width="1.5"/><line x1="71.0" y1="933.76" x2="77.3" y2="933.76" stroke="#202020" stroke-width="1.5"/><g transform="translate(66.0,937.7) scale(0.94,1)"><text x="-28.03" y="0" font-size="14.2">−0.3</text></g><line x1="74.0" y1="952.62" x2="77.3" y2="952.62" stroke="#202020" stroke-width="1.5"/><line x1="71.0" y1="971.48" x2="77.3" y2="971.48" stroke="#202020" stroke-width="1.5"/><g transform="translate(66.0,975.4) scale(0.94,1)"><text x="-28.03" y="0" font-size="14.2">−0.4</text></g><line x1="74.0" y1="990.34" x2="77.3" y2="990.34" stroke="#202020" stroke-width="1.5"/><line x1="71.0" y1="1009.20" x2="77.3" y2="1009.20" stroke="#202020" stroke-width="1.5"/><g transform="translate(66.0,1013.1) scale(0.94,1)"><text x="-28.03" y="0" font-size="14.2">−0.5</text></g><line x1="77.30" y1="1009.2" x2="77.30" y2="1012.7" stroke="#202020" stroke-width="1.5"/><line x1="107.89" y1="1009.2" x2="107.89" y2="1015.2" stroke="#202020" stroke-width="1.5"/><g transform="translate(108.1,1030.6) scale(0.94,1)"><text x="-15.79" y="0" font-size="14.2"> 300</text><path d="M763 0H583V1147C539 1105 481 1063 409 1021C337 979 272 947 223 926V1098C321 1144 406 1200 479 1264C552 1328 604 1395 635 1466H763Z" transform="translate(-15.79,0) scale(0.00693,-0.00674)"/></g><line x1="138.49" y1="1009.2" x2="138.49" y2="1012.7" stroke="#202020" stroke-width="1.5"/><line x1="169.08" y1="1009.2" x2="169.08" y2="1015.2" stroke="#202020" stroke-width="1.5"/><g transform="translate(169.3,1030.6) scale(0.94,1)"><text x="-15.79" y="0" font-size="14.2"> 350</text><path d="M763 0H583V1147C539 1105 481 1063 409 1021C337 979 272 947 223 926V1098C321 1144 406 1200 479 1264C552 1328 604 1395 635 1466H763Z" transform="translate(-15.79,0) scale(0.00693,-0.00674)"/></g><line x1="199.67" y1="1009.2" x2="199.67" y2="1012.7" stroke="#202020" stroke-width="1.5"/><line x1="230.26" y1="1009.2" x2="230.26" y2="1015.2" stroke="#202020" stroke-width="1.5"/><g transform="translate(230.5,1030.6) scale(0.94,1)"><text x="-15.79" y="0" font-size="14.2"> 400</text><path d="M763 0H583V1147C539 1105 481 1063 409 1021C337 979 272 947 223 926V1098C321 1144 406 1200 479 1264C552 1328 604 1395 635 1466H763Z" transform="translate(-15.79,0) scale(0.00693,-0.00674)"/></g><line x1="260.86" y1="1009.2" x2="260.86" y2="1012.7" stroke="#202020" stroke-width="1.5"/><line x1="291.45" y1="1009.2" x2="291.45" y2="1015.2" stroke="#202020" stroke-width="1.5"/><g transform="translate(291.6,1030.6) scale(0.94,1)"><text x="-15.79" y="0" font-size="14.2"> 450</text><path d="M763 0H583V1147C539 1105 481 1063 409 1021C337 979 272 947 223 926V1098C321 1144 406 1200 479 1264C552 1328 604 1395 635 1466H763Z" transform="translate(-15.79,0) scale(0.00693,-0.00674)"/></g><line x1="322.04" y1="1009.2" x2="322.04" y2="1012.7" stroke="#202020" stroke-width="1.5"/><line x1="352.64" y1="1009.2" x2="352.64" y2="1015.2" stroke="#202020" stroke-width="1.5"/><g transform="translate(352.8,1030.6) scale(0.94,1)"><text x="-15.79" y="0" font-size="14.2"> 500</text><path d="M763 0H583V1147C539 1105 481 1063 409 1021C337 979 272 947 223 926V1098C321 1144 406 1200 479 1264C552 1328 604 1395 635 1466H763Z" transform="translate(-15.79,0) scale(0.00693,-0.00674)"/></g><line x1="383.23" y1="1009.2" x2="383.23" y2="1012.7" stroke="#202020" stroke-width="1.5"/><line x1="413.82" y1="1009.2" x2="413.82" y2="1015.2" stroke="#202020" stroke-width="1.5"/><g transform="translate(414.0,1030.6) scale(0.94,1)"><text x="-15.79" y="0" font-size="14.2"> 550</text><path d="M763 0H583V1147C539 1105 481 1063 409 1021C337 979 272 947 223 926V1098C321 1144 406 1200 479 1264C552 1328 604 1395 635 1466H763Z" transform="translate(-15.79,0) scale(0.00693,-0.00674)"/></g><line x1="444.41" y1="1009.2" x2="444.41" y2="1012.7" stroke="#202020" stroke-width="1.5"/><line x1="475.01" y1="1009.2" x2="475.01" y2="1015.2" stroke="#202020" stroke-width="1.5"/><g transform="translate(475.2,1030.6) scale(0.94,1)"><text x="-15.79" y="0" font-size="14.2"> 600</text><path d="M763 0H583V1147C539 1105 481 1063 409 1021C337 979 272 947 223 926V1098C321 1144 406 1200 479 1264C552 1328 604 1395 635 1466H763Z" transform="translate(-15.79,0) scale(0.00693,-0.00674)"/></g><line x1="505.60" y1="1009.2" x2="505.60" y2="1012.7" stroke="#202020" stroke-width="1.5"/><g transform="translate(291.4,1056.1)"><text x="-64.72" y="0" font-size="17">Wavelength (nm)</text></g><g transform="translate(19.2,809.8) rotate(-90)"><text x="-34.50" y="0" font-size="17">Loadings</text></g><g transform="translate(43.3,590.5)"><text x="0.00" y="0" font-size="27">(c)</text></g><g transform="translate(0,590.4)"><text x="248.69" y="0" font-size="27">W</text><text x="274.18" y="8.3" font-size="18">shallow</text></g><rect x="346.4" y="631.7" width="159.2" height="44.3" fill="#fff" stroke="#555" stroke-width="1"/><line x1="348.9" y1="643.8" x2="387.6" y2="643.8" stroke="#525252" stroke-width="1.8"/><g transform="translate(392.0,649.5)"><text x="0.00" y="0" font-size="17">PC   (88.53%)</text><path d="M763 0H583V1147C539 1105 481 1063 409 1021C337 979 272 947 223 926V1098C321 1144 406 1200 479 1264C552 1328 604 1395 635 1466H763Z" transform="translate(28.34,0) scale(0.00830,-0.00807)"/></g><line x1="348.9" y1="664.4" x2="387.6" y2="664.4" stroke="#26aaf6" stroke-width="2"/><g transform="translate(392.0,670.1)"><text x="0.00" y="0" font-size="17">PC 2 (7.22%)</text></g><line x1="505.6" y1="632.0" x2="505.6" y2="1009.2" stroke="#202020" stroke-width="1.6"/></g>
<g><line x1="673.8" y1="820.6" x2="1029.8" y2="820.6" stroke="#d2d2d2" stroke-width="1.3"/><polyline points="673.6,710.3 680.9,728.1 687.9,745.9 695.9,763.7 702.9,778.2 710.2,790.0 718.4,807.8 725.9,820.9 733.4,834.0 740.8,847.1 747.9,858.4 755.3,874.6 763.0,891.2 770.8,905.7 778.2,913.6 786.6,916.2 795.0,915.5 802.4,910.3 809.9,901.9 817.6,889.3 823.9,877.7 827.4,870.5 830.0,864.5 834.4,855.5 841.5,836.8 847.1,820.9 852.7,808.7 856.5,797.5 861.7,781.2 870.1,763.9 878.4,752.6 885.6,754.2 893.1,759.2 901.0,762.9 908.1,765.3 915.5,768.6 923.0,772.8 930.5,777.9 939.0,784.5 946.7,790.2 953.6,796.9 961.5,802.9 969.0,809.5 976.0,815.1 983.1,820.7 990.6,826.8 998.1,834.8 1005.5,842.3 1014.0,850.7 1021.5,859.1 1029.9,868.0" fill="none" stroke="#525252" stroke-width="1.8" stroke-linejoin="round" stroke-linecap="round"/><polyline points="673.8,986.6 678.4,952.1 681.5,933.6 684.6,914.0 687.1,896.5 689.5,884.0 692.2,867.7 695.0,853.7 697.8,839.6 701.5,820.9 703.4,813.4 707.1,800.0 710.9,787.1 714.6,774.9 718.4,763.7 726.3,744.9 733.8,732.8 741.3,726.7 748.3,726.0 757.7,746.8 765.0,768.4 771.7,790.0 777.3,805.4 783.4,820.9 787.6,830.3 794.6,846.2 801.0,862.0 805.2,869.3 810.8,879.6 817.3,888.2 824.3,892.2 833.1,888.9 840.0,881.0 848.0,864.9 855.3,839.8 860.2,820.7 865.0,800.9 870.6,781.7 878.4,762.9 885.1,769.5 892.6,779.3 900.1,783.1 908.1,783.1 916.0,782.6 924.0,784.0 931.0,787.8 939.0,794.3 946.5,800.8 953.6,810.9 961.1,815.6 968.1,820.3 976.0,825.9 984.0,831.0 991.5,836.6 999.9,843.7 1007.4,849.3 1014.9,855.8 1021.5,861.5 1029.9,868.0" fill="none" stroke="#26aaf6" stroke-width="2" stroke-linejoin="round" stroke-linecap="round"/><line x1="748.3" y1="719.9" x2="748.3" y2="732.5" stroke="#ff4545" stroke-width="1.3"/><line x1="786.6" y1="910.3" x2="786.6" y2="922.9" stroke="#ff4545" stroke-width="1.3"/><line x1="824.3" y1="885.9" x2="824.3" y2="898.5" stroke="#ff4545" stroke-width="1.3"/><line x1="878.4" y1="746.3" x2="878.4" y2="758.9" stroke="#ff4545" stroke-width="1.3"/><line x1="916.0" y1="776.1" x2="916.0" y2="788.7" stroke="#ff4545" stroke-width="1.3"/><g transform="translate(754.2,706.2) rotate(-90)"><text x="0.00" y="0" font-size="17"> 366</text><path d="M763 0H583V1147C539 1105 481 1063 409 1021C337 979 272 947 223 926V1098C321 1144 406 1200 479 1264C552 1328 604 1395 635 1466H763Z" transform="translate(0.00,0) scale(0.00830,-0.00807)"/></g><g transform="translate(792.6,898.1) rotate(-90)"><text x="0.00" y="0" font-size="17"> 397</text><path d="M763 0H583V1147C539 1105 481 1063 409 1021C337 979 272 947 223 926V1098C321 1144 406 1200 479 1264C552 1328 604 1395 635 1466H763Z" transform="translate(0.00,0) scale(0.00830,-0.00807)"/></g><g transform="translate(830.2,872.0) rotate(-90)"><text x="0.00" y="0" font-size="17"> 428</text><path d="M763 0H583V1147C539 1105 481 1063 409 1021C337 979 272 947 223 926V1098C321 1144 406 1200 479 1264C552 1328 604 1395 635 1466H763Z" transform="translate(0.00,0) scale(0.00830,-0.00807)"/></g><g transform="translate(884.2,733.8) rotate(-90)"><text x="0.00" y="0" font-size="17"> 472</text><path d="M763 0H583V1147C539 1105 481 1063 409 1021C337 979 272 947 223 926V1098C321 1144 406 1200 479 1264C552 1328 604 1395 635 1466H763Z" transform="translate(0.00,0) scale(0.00830,-0.00807)"/></g><g transform="translate(922.2,763.8) rotate(-90)"><text x="0.00" y="0" font-size="17"> 503</text><path d="M763 0H583V1147C539 1105 481 1063 409 1021C337 979 272 947 223 926V1098C321 1144 406 1200 479 1264C552 1328 604 1395 635 1466H763Z" transform="translate(0.00,0) scale(0.00830,-0.00807)"/></g><rect x="637.2" y="632.0" width="428.3" height="377.2" fill="none" stroke="#202020" stroke-width="1.6"/><line x1="630.9" y1="632.00" x2="637.2" y2="632.00" stroke="#202020" stroke-width="1.5"/><g transform="translate(625.9,635.9) scale(0.94,1)"><text x="-19.74" y="0" font-size="14.2">0.5</text></g><line x1="633.9" y1="650.86" x2="637.2" y2="650.86" stroke="#202020" stroke-width="1.5"/><line x1="630.9" y1="669.72" x2="637.2" y2="669.72" stroke="#202020" stroke-width="1.5"/><g transform="translate(625.9,673.6) scale(0.94,1)"><text x="-19.74" y="0" font-size="14.2">0.4</text></g><line x1="633.9" y1="688.58" x2="637.2" y2="688.58" stroke="#202020" stroke-width="1.5"/><line x1="630.9" y1="707.44" x2="637.2" y2="707.44" stroke="#202020" stroke-width="1.5"/><g transform="translate(625.9,711.3) scale(0.94,1)"><text x="-19.74" y="0" font-size="14.2">0.3</text></g><line x1="633.9" y1="726.30" x2="637.2" y2="726.30" stroke="#202020" stroke-width="1.5"/><line x1="630.9" y1="745.16" x2="637.2" y2="745.16" stroke="#202020" stroke-width="1.5"/><g transform="translate(625.9,749.1) scale(0.94,1)"><text x="-19.74" y="0" font-size="14.2">0.2</text></g><line x1="633.9" y1="764.02" x2="637.2" y2="764.02" stroke="#202020" stroke-width="1.5"/><line x1="630.9" y1="782.88" x2="637.2" y2="782.88" stroke="#202020" stroke-width="1.5"/><g transform="translate(625.9,786.8) scale(0.94,1)"><text x="-19.74" y="0" font-size="14.2">0. </text><path d="M763 0H583V1147C539 1105 481 1063 409 1021C337 979 272 947 223 926V1098C321 1144 406 1200 479 1264C552 1328 604 1395 635 1466H763Z" transform="translate(-7.90,0) scale(0.00693,-0.00674)"/></g><line x1="633.9" y1="801.74" x2="637.2" y2="801.74" stroke="#202020" stroke-width="1.5"/><line x1="630.9" y1="820.60" x2="637.2" y2="820.60" stroke="#202020" stroke-width="1.5"/><g transform="translate(625.9,824.5) scale(0.94,1)"><text x="-19.74" y="0" font-size="14.2">0.0</text></g><line x1="633.9" y1="839.46" x2="637.2" y2="839.46" stroke="#202020" stroke-width="1.5"/><line x1="630.9" y1="858.32" x2="637.2" y2="858.32" stroke="#202020" stroke-width="1.5"/><g transform="translate(625.9,862.2) scale(0.94,1)"><text x="-28.03" y="0" font-size="14.2">−0. </text><path d="M763 0H583V1147C539 1105 481 1063 409 1021C337 979 272 947 223 926V1098C321 1144 406 1200 479 1264C552 1328 604 1395 635 1466H763Z" transform="translate(-7.90,0) scale(0.00693,-0.00674)"/></g><line x1="633.9" y1="877.18" x2="637.2" y2="877.18" stroke="#202020" stroke-width="1.5"/><line x1="630.9" y1="896.04" x2="637.2" y2="896.04" stroke="#202020" stroke-width="1.5"/><g transform="translate(625.9,899.9) scale(0.94,1)"><text x="-28.03" y="0" font-size="14.2">−0.2</text></g><line x1="633.9" y1="914.90" x2="637.2" y2="914.90" stroke="#202020" stroke-width="1.5"/><line x1="630.9" y1="933.76" x2="637.2" y2="933.76" stroke="#202020" stroke-width="1.5"/><g transform="translate(625.9,937.7) scale(0.94,1)"><text x="-28.03" y="0" font-size="14.2">−0.3</text></g><line x1="633.9" y1="952.62" x2="637.2" y2="952.62" stroke="#202020" stroke-width="1.5"/><line x1="630.9" y1="971.48" x2="637.2" y2="971.48" stroke="#202020" stroke-width="1.5"/><g transform="translate(625.9,975.4) scale(0.94,1)"><text x="-28.03" y="0" font-size="14.2">−0.4</text></g><line x1="633.9" y1="990.34" x2="637.2" y2="990.34" stroke="#202020" stroke-width="1.5"/><line x1="630.9" y1="1009.20" x2="637.2" y2="1009.20" stroke="#202020" stroke-width="1.5"/><g transform="translate(625.9,1013.1) scale(0.94,1)"><text x="-28.03" y="0" font-size="14.2">−0.5</text></g><line x1="637.20" y1="1009.2" x2="637.20" y2="1012.7" stroke="#202020" stroke-width="1.5"/><line x1="667.79" y1="1009.2" x2="667.79" y2="1015.2" stroke="#202020" stroke-width="1.5"/><g transform="translate(668.0,1030.6) scale(0.94,1)"><text x="-15.79" y="0" font-size="14.2"> 300</text><path d="M763 0H583V1147C539 1105 481 1063 409 1021C337 979 272 947 223 926V1098C321 1144 406 1200 479 1264C552 1328 604 1395 635 1466H763Z" transform="translate(-15.79,0) scale(0.00693,-0.00674)"/></g><line x1="698.39" y1="1009.2" x2="698.39" y2="1012.7" stroke="#202020" stroke-width="1.5"/><line x1="728.98" y1="1009.2" x2="728.98" y2="1015.2" stroke="#202020" stroke-width="1.5"/><g transform="translate(729.2,1030.6) scale(0.94,1)"><text x="-15.79" y="0" font-size="14.2"> 350</text><path d="M763 0H583V1147C539 1105 481 1063 409 1021C337 979 272 947 223 926V1098C321 1144 406 1200 479 1264C552 1328 604 1395 635 1466H763Z" transform="translate(-15.79,0) scale(0.00693,-0.00674)"/></g><line x1="759.57" y1="1009.2" x2="759.57" y2="1012.7" stroke="#202020" stroke-width="1.5"/><line x1="790.16" y1="1009.2" x2="790.16" y2="1015.2" stroke="#202020" stroke-width="1.5"/><g transform="translate(790.4,1030.6) scale(0.94,1)"><text x="-15.79" y="0" font-size="14.2"> 400</text><path d="M763 0H583V1147C539 1105 481 1063 409 1021C337 979 272 947 223 926V1098C321 1144 406 1200 479 1264C552 1328 604 1395 635 1466H763Z" transform="translate(-15.79,0) scale(0.00693,-0.00674)"/></g><line x1="820.76" y1="1009.2" x2="820.76" y2="1012.7" stroke="#202020" stroke-width="1.5"/><line x1="851.35" y1="1009.2" x2="851.35" y2="1015.2" stroke="#202020" stroke-width="1.5"/><g transform="translate(851.6,1030.6) scale(0.94,1)"><text x="-15.79" y="0" font-size="14.2"> 450</text><path d="M763 0H583V1147C539 1105 481 1063 409 1021C337 979 272 947 223 926V1098C321 1144 406 1200 479 1264C552 1328 604 1395 635 1466H763Z" transform="translate(-15.79,0) scale(0.00693,-0.00674)"/></g><line x1="881.94" y1="1009.2" x2="881.94" y2="1012.7" stroke="#202020" stroke-width="1.5"/><line x1="912.54" y1="1009.2" x2="912.54" y2="1015.2" stroke="#202020" stroke-width="1.5"/><g transform="translate(912.7,1030.6) scale(0.94,1)"><text x="-15.79" y="0" font-size="14.2"> 500</text><path d="M763 0H583V1147C539 1105 481 1063 409 1021C337 979 272 947 223 926V1098C321 1144 406 1200 479 1264C552 1328 604 1395 635 1466H763Z" transform="translate(-15.79,0) scale(0.00693,-0.00674)"/></g><line x1="943.13" y1="1009.2" x2="943.13" y2="1012.7" stroke="#202020" stroke-width="1.5"/><line x1="973.72" y1="1009.2" x2="973.72" y2="1015.2" stroke="#202020" stroke-width="1.5"/><g transform="translate(973.9,1030.6) scale(0.94,1)"><text x="-15.79" y="0" font-size="14.2"> 550</text><path d="M763 0H583V1147C539 1105 481 1063 409 1021C337 979 272 947 223 926V1098C321 1144 406 1200 479 1264C552 1328 604 1395 635 1466H763Z" transform="translate(-15.79,0) scale(0.00693,-0.00674)"/></g><line x1="1004.31" y1="1009.2" x2="1004.31" y2="1012.7" stroke="#202020" stroke-width="1.5"/><line x1="1034.91" y1="1009.2" x2="1034.91" y2="1015.2" stroke="#202020" stroke-width="1.5"/><g transform="translate(1035.1,1030.6) scale(0.94,1)"><text x="-15.79" y="0" font-size="14.2"> 600</text><path d="M763 0H583V1147C539 1105 481 1063 409 1021C337 979 272 947 223 926V1098C321 1144 406 1200 479 1264C552 1328 604 1395 635 1466H763Z" transform="translate(-15.79,0) scale(0.00693,-0.00674)"/></g><line x1="1065.50" y1="1009.2" x2="1065.50" y2="1012.7" stroke="#202020" stroke-width="1.5"/><g transform="translate(851.4,1056.1)"><text x="-64.72" y="0" font-size="17">Wavelength (nm)</text></g><g transform="translate(579.2,812.9) rotate(-90)"><text x="-34.50" y="0" font-size="17">Loadings</text></g><g transform="translate(599.9,590.5)"><text x="0.00" y="0" font-size="27">(d)</text></g><g transform="translate(0,590.4)"><text x="824.61" y="0" font-size="27">W</text><text x="850.10" y="8.3" font-size="18">mix</text></g><rect x="911.0" y="631.7" width="154.5" height="44.3" fill="#fff" stroke="#555" stroke-width="1"/><line x1="913.5" y1="643.8" x2="952.2" y2="643.8" stroke="#525252" stroke-width="1.8"/><g transform="translate(956.6,649.5)"><text x="0.00" y="0" font-size="17">PC  (9 .06%)</text><path d="M763 0H583V1147C539 1105 481 1063 409 1021C337 979 272 947 223 926V1098C321 1144 406 1200 479 1264C552 1328 604 1395 635 1466H763Z" transform="translate(23.62,0) scale(0.00830,-0.00807)"/><path d="M763 0H583V1147C539 1105 481 1063 409 1021C337 979 272 947 223 926V1098C321 1144 406 1200 479 1264C552 1328 604 1395 635 1466H763Z" transform="translate(52.91,0) scale(0.00830,-0.00807)"/></g><line x1="913.5" y1="664.4" x2="952.2" y2="664.4" stroke="#26aaf6" stroke-width="2"/><g transform="translate(956.6,670.1)"><text x="0.00" y="0" font-size="17">PC2 (7.57%)</text></g><line x1="1065.5" y1="632.0" x2="1065.5" y2="1009.2" stroke="#202020" stroke-width="1.6"/></g>
</svg>
</body></html>
